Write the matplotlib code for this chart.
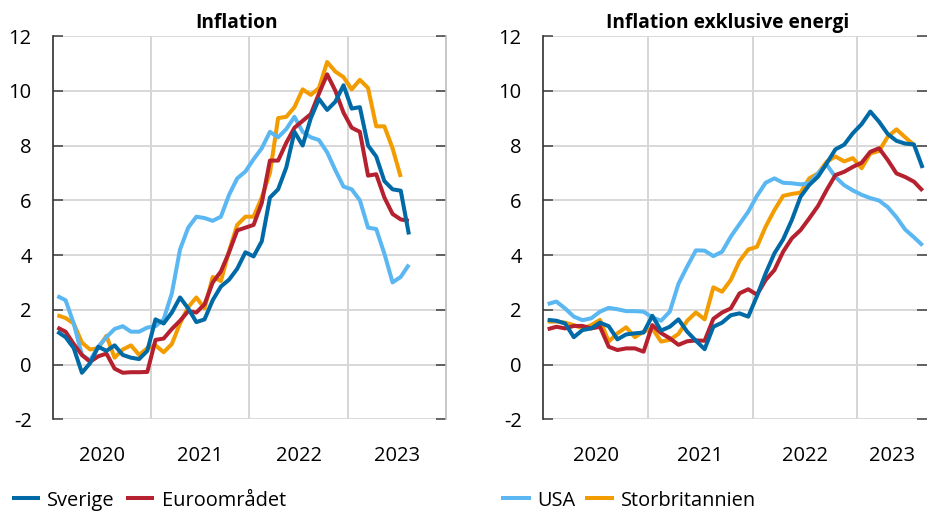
import matplotlib
matplotlib.use('Agg')
import matplotlib.pyplot as plt
from matplotlib.lines import Line2D
import numpy as np

plt.rcParams['font.family'] = ['Open Sans', 'DejaVu Sans']
plt.rcParams['axes.unicode_minus'] = False

# ---------------- data (monthly, from Jan 2020) ----------------
start_year = 2020
series_names = ['Sverige', 'Euroområdet', 'USA', 'Storbritannien']
colors = {'Sverige': '#006AA7', 'Euroområdet': '#B5212E',
          'USA': '#5BB7F2', 'Storbritannien': '#F39C00'}

# Panel 1: Inflation
sverige_tot = [1.2, 1.0, 0.6, -0.3, 0.05, 0.65, 0.5, 0.7, 0.35, 0.25, 0.2, 0.5,
               1.65, 1.5, 1.9, 2.45, 2.05, 1.55, 1.65, 2.35, 2.85, 3.1, 3.5, 4.1,
               3.95, 4.5, 6.1, 6.4, 7.2, 8.5, 8.0, 9.0, 9.7, 9.3, 9.6, 10.2,
               9.35, 9.4, 8.0, 7.6, 6.7, 6.4, 6.35, 4.75]
euro_tot = [1.35, 1.2, 0.75, 0.35, 0.1, 0.3, 0.4, -0.15, -0.3, -0.28, -0.28, -0.27,
            0.9, 0.95, 1.3, 1.6, 1.95, 1.9, 2.2, 3.0, 3.4, 4.1, 4.9, 5.0,
            5.1, 5.9, 7.45, 7.45, 8.1, 8.65, 8.9, 9.15, 9.9, 10.6, 10.0, 9.2,
            8.65, 8.5, 6.9, 6.95, 6.1, 5.5, 5.3, 5.25]
usa_tot = [2.5, 2.35, 1.5, 0.35, 0.15, 0.65, 1.0, 1.3, 1.4, 1.2, 1.2, 1.35,
           1.4, 1.65, 2.6, 4.2, 5.0, 5.4, 5.35, 5.25, 5.4, 6.2, 6.8, 7.05,
           7.5, 7.9, 8.5, 8.3, 8.6, 9.05, 8.5, 8.3, 8.2, 7.75, 7.1, 6.5,
           6.4, 6.0, 5.0, 4.95, 4.05, 3.0, 3.2, 3.65]
uk_tot = [1.8, 1.7, 1.5, 0.8, 0.55, 0.6, 1.05, 0.25, 0.55, 0.7, 0.35, 0.6,
          0.7, 0.45, 0.75, 1.5, 2.1, 2.45, 2.05, 3.2, 3.05, 4.15, 5.1, 5.4,
          5.4, 6.1, 7.0, 9.0, 9.05, 9.4, 10.05, 9.85, 10.1, 11.05, 10.7, 10.5,
          10.05, 10.4, 10.1, 8.7, 8.7, 7.9, 6.85]

# Panel 2: Inflation exklusive energi
sverige_ex = [1.63, 1.6, 1.5, 1.0, 1.26, 1.32, 1.53, 1.4, 0.92, 1.1, 1.14, 1.17,
              1.78, 1.24, 1.38, 1.65, 1.2, 0.87, 0.56, 1.38, 1.53, 1.8, 1.87, 1.75,
              2.5, 3.33, 4.06, 4.57, 5.28, 6.13, 6.56, 6.86, 7.35, 7.86, 8.03, 8.45,
              8.78, 9.24, 8.87, 8.42, 8.17, 8.07, 8.04, 7.18]
euro_ex = [1.29, 1.38, 1.32, 1.41, 1.41, 1.32, 1.38, 0.65, 0.53, 0.59, 0.59, 0.47,
           1.44, 1.15, 0.96, 0.72, 0.85, 0.88, 0.87, 1.67, 1.9, 2.05, 2.6, 2.75,
           2.55, 3.09, 3.45, 4.12, 4.61, 4.91, 5.34, 5.79, 6.38, 6.92, 7.04, 7.22,
           7.37, 7.77, 7.9, 7.47, 6.98, 6.85, 6.68, 6.35]
usa_ex = [2.21, 2.3, 2.05, 1.75, 1.62, 1.69, 1.93, 2.07, 2.02, 1.95, 1.95, 1.93,
          1.72, 1.6, 1.93, 2.95, 3.58, 4.17, 4.16, 3.96, 4.12, 4.67, 5.13, 5.58,
          6.16, 6.64, 6.8, 6.64, 6.62, 6.58, 6.62, 6.98, 7.3, 6.85, 6.55, 6.36,
          6.2, 6.08, 5.99, 5.75, 5.38, 4.93, 4.65, 4.35]
uk_ex = [1.57, 1.57, 1.53, 1.44, 1.32, 1.44, 1.63, 0.84, 1.14, 1.36, 1.0, 1.2,
         1.32, 0.84, 0.9, 1.12, 1.6, 1.9, 1.65, 2.82, 2.66, 3.09, 3.78, 4.2,
         4.3, 5.04, 5.64, 6.16, 6.23, 6.28, 6.8, 6.98, 7.41, 7.6, 7.42, 7.54,
         7.17, 7.71, 7.8, 8.32, 8.59, 8.3, 8.02]

panels = [
    ('Inflation', {'Sverige': sverige_tot, 'Euroområdet': euro_tot,
                   'USA': usa_tot, 'Storbritannien': uk_tot}),
    ('Inflation exklusive energi', {'Sverige': sverige_ex, 'Euroområdet': euro_ex,
                                    'USA': usa_ex, 'Storbritannien': uk_ex}),
]
year_labels = ['2020', '2021', '2022', '2023']
yticks = list(range(-2, 13, 2))

# ---------------- figure ----------------
W, H = 928, 512
fig = plt.figure(figsize=(W / 100, H / 100), dpi=100)

def fx(px):
    return px / W

def fy(py):
    return 1 - py / H

axes_px = [(53.3, 445.7, 2024.0), (543.3, 927.0, 2020 + 44 / 12)]
title_px = [237, 728]
zorders = {'Storbritannien': 2, 'USA': 3, 'Euroområdet': 4, 'Sverige': 5}

for (title, data), (x0, x1, xmax), tx in zip(panels, axes_px, title_px):
    ax = fig.add_axes([fx(x0), fy(419.3), fx(x1 - x0), (419.3 - 36) / H])
    for name in series_names:
        vals = data[name]
        x = start_year + (np.arange(len(vals)) + 0.5) / 12
        ax.plot(x, vals, color=colors[name], lw=2.9, zorder=zorders[name],
                solid_capstyle='butt')
    ax.set_xlim(2020, xmax)
    ax.set_ylim(-2, 12)
    ax.set_yticks(yticks)
    ax.set_yticklabels([str(v) for v in yticks])
    # year labels centred in the visible part of each year
    label_pos = [(max(2020 + k, 2020) + min(2021 + k, xmax)) / 2 for k in range(4)]
    ax.set_xticks(label_pos)
    ax.set_xticklabels(year_labels)
    ax.set_xticks([2021, 2022, 2023], minor=True)
    ax.tick_params(axis='x', which='both', length=0, labelsize=14.5, pad=19)
    ax.tick_params(axis='y', direction='in', length=7.5, width=1.1, color='#404040',
                   left=True, right=True, labelsize=14.5, pad=15.5)
    ax.grid(axis='y', which='major', color='#d6d6d6', lw=1.3)
    ax.grid(axis='x', which='minor', color='#cfcfcf', lw=1.2)
    ax.set_axisbelow(True)
    for s in ['top', 'bottom']:
        ax.spines[s].set_visible(False)
    ax.spines['left'].set_color('#303030')
    ax.spines['left'].set_linewidth(1.2)
    if xmax >= 2024:
        ax.spines['right'].set_color('#bdbdbd')
        ax.spines['right'].set_linewidth(1.2)
    else:
        ax.spines['right'].set_visible(False)
    fig.text(fx(tx), fy(28.3), title, ha='center', va='baseline',
             fontsize=13.8, fontweight='bold', color='black')

# ---------------- legend ----------------
legend_items = [('Sverige', 11.7, 40, 47), ('Euroområdet', 126, 154, 162),
                ('USA', 501, 531, 537), ('Storbritannien', 585, 614, 621)]
for name, l0, l1, t0 in legend_items:
    fig.add_artist(Line2D([fx(l0), fx(l1)], [fy(497.5), fy(497.5)],
                          transform=fig.transFigure, color=colors[name], lw=2.9,
                          solid_capstyle='butt'))
    fig.text(fx(t0), fy(506), name, ha='left', va='baseline', fontsize=14.4,
             color='black')

fig.savefig('out.png', dpi=100)
